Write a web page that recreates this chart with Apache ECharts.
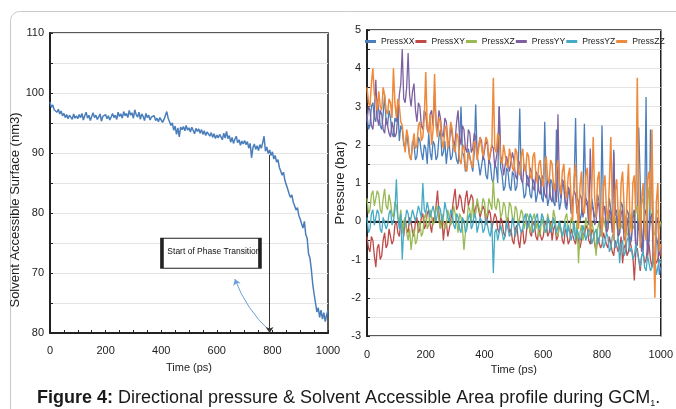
<!DOCTYPE html>
<html><head><meta charset="utf-8">
<script src="https://cdn.jsdelivr.net/npm/echarts@6/dist/echarts.min.js"></script>
<style>html,body{margin:0;padding:0;background:#fff;}#c{width:676px;height:409px;}</style>
</head><body><div id="c"></div>
<script>
// ---------- Left panel: Solvent Accessible Surface (sampled every 5 ps) ----------
const sasStep = 5;
const sasValues = [
98.5,97.6,98.0,97.2,97.5,96.8,97.3,96.5,97.0,96.2,96.6,95.9,96.4,95.7,96.3,96.0,95.6,96.5,95.8,96.2,95.7,
96.4,95.9,96.6,95.5,96.2,96.8,95.8,96.3,95.4,96.1,96.7,95.9,96.3,95.6,96.0,96.5,95.3,96.1,95.8,96.4,
95.7,96.2,95.5,96.0,96.6,95.9,96.3,95.6,96.8,96.1,96.5,95.8,96.9,96.2,96.6,95.9,97.1,96.3,96.7,95.8,
97.2,96.4,96.0,96.8,95.6,96.5,96.1,95.4,96.6,95.9,96.3,95.5,96.0,95.7,96.2,95.4,95.8,95.2,95.9,95.5,
95.1,95.6,95.3,96.9,95.8,95.2,94.6,95.0,93.8,94.5,93.1,94.2,92.7,94.3,93.9,94.4,93.7,94.6,93.8,94.2,
93.5,94.3,93.8,93.2,94.1,93.6,94.0,93.3,93.9,93.1,93.7,92.9,93.5,93.8,92.8,93.4,92.6,93.2,92.4,93.0,
92.5,93.1,92.7,92.2,93.3,92.5,93.6,92.4,92.9,91.8,92.6,91.6,92.3,92.8,91.7,92.2,91.3,92.0,91.5,92.1,
91.4,91.9,90.8,91.6,89.2,90.9,91.5,90.6,91.2,90.4,91.4,90.8,91.7,92.8,90.3,91.0,89.9,90.5,89.6,90.2,
89.0,89.6,88.5,88.9,87.6,87.0,86.3,86.8,85.4,84.7,84.0,83.2,82.6,83.0,81.8,81.2,80.5,80.9,79.6,79.0,
78.2,77.5,78.6,76.4,75.8,73.2,72.5,70.6,68.2,66.5,65.0,63.5,64.2,62.6,63.8,62.3,63.4,61.9,63.0,63.8
];
// tick labels of the left value axis (60..110 step 10) exactly as printed in the figure
const sasTickValues = [60, 70, 80, 90, 100, 110];
const sasTickLabels = ['80', '70', '80', '90', '100', '110'];
const timeTickLabels = ['0', '200', '400', '600', '800', '1000'];
const annotationText = 'Start of Phase Transition';
const transitionTime = 790;

// ---------- Right panel: directional pressure (sampled every 5 ps) ----------
const pressStep = 5;
const pressNames = ['PressXX', 'PressXY', 'PressXZ', 'PressYY', 'PressYZ', 'PressZZ'];
const pressXX = [
2.8,2.4,2.5,3.0,3.1,2.7,2.6,3.2,2.9,2.5,2.4,2.8,3.3,2.6,2.5,2.9,2.7,2.3,2.2,2.7,
2.6,3.0,2.1,2.5,2.4,2.0,1.9,2.3,2.0,1.7,1.6,2.1,2.0,1.6,1.7,2.2,2.1,1.8,1.6,2.0,
1.9,1.5,2.3,1.8,1.6,2.1,2.0,1.6,1.7,2.2,2.4,1.7,1.8,2.1,1.5,1.9,2.0,1.6,1.7,2.1,
1.9,1.6,1.5,2.0,3.0,1.8,1.7,1.3,1.4,1.9,1.9,1.5,1.3,1.8,3.05,1.7,1.5,1.2,1.2,1.7,
1.6,1.2,1.1,1.6,1.5,1.1,1.0,1.5,1.4,1.0,3.0,1.4,1.2,0.8,0.9,1.4,1.3,0.9,0.8,1.3,
1.2,0.8,0.9,1.4,2.95,1.1,1.0,0.6,0.7,1.2,1.1,0.7,0.6,1.1,1.0,0.5,0.7,1.2,1.1,0.6,
0.5,2.6,0.9,0.4,0.6,1.1,1.0,0.5,0.4,2.4,0.8,0.3,0.5,1.0,0.9,0.4,0.3,0.8,0.7,0.2,
0.4,0.9,2.7,0.6,0.5,0.0,0.2,0.7,2.55,0.5,0.4,-0.1,0.1,0.6,0.6,0.1,0.2,0.7,0.5,0.0,
2.5,0.3,0.4,-0.2,0.1,0.6,0.6,0.0,1.87,0.2,0.3,-0.4,-0.3,0.5,0.4,-0.3,-0.2,0.3,0.2,-0.5,
-0.4,0.2,0.3,-0.7,-0.6,2.45,2.4,-0.4,-0.8,0.3,3.25,-0.9,-0.5,2.4,2.4,-1.0,-1.3,-0.4,-0.6,-1.4,
-1.2
];
const pressXY = [
-0.4,-0.7,-0.8,-0.4,-0.5,-0.9,-1.2,-0.7,-0.6,-1.0,-0.9,-0.5,-0.3,-0.7,-0.6,-0.2,-0.2,-0.6,-0.5,-0.1,
0.0,-0.3,-0.4,0.0,-0.1,-0.4,0.1,-0.2,-0.3,0.1,0.0,-0.3,-0.4,0.0,0.1,-0.3,-0.2,0.1,0.2,-0.2,
-0.1,0.2,0.3,-0.1,-0.3,0.1,0.0,0.4,0.8,0.2,-0.2,0.1,-0.5,-0.1,0.0,-0.4,-0.4,0.0,0.3,0.6,
0.85,0.3,0.4,0.7,0.6,0.3,0.2,0.6,0.8,0.4,0.4,0.7,0.6,0.2,0.2,0.5,0.5,0.1,0.1,0.4,
0.3,-0.1,-0.1,0.3,0.2,-0.2,-0.2,0.2,0.1,-0.2,-0.3,0.1,0.0,-0.3,-0.4,0.0,0.1,-0.3,-0.2,-0.5,
-0.6,-0.2,-0.1,-0.5,-0.7,-0.3,-0.2,-0.6,-0.5,-0.1,0.0,-0.3,-0.4,0.0,-0.1,-0.4,-0.5,-0.2,-0.2,-0.5,
-0.4,-0.1,0.0,-0.4,-0.3,0.0,-0.5,-0.2,-0.1,-0.5,-0.4,-0.1,-0.2,-0.5,-0.6,-0.2,-0.3,-0.6,-0.5,-0.2,
-0.2,-0.5,-0.6,-0.3,-0.3,-0.7,-0.7,-0.3,-0.4,-0.1,-0.2,-0.5,-0.6,-0.2,-0.3,-0.6,-0.8,-0.4,-0.4,-0.7,
-0.6,-0.3,-0.3,-0.6,-0.7,-0.4,-0.4,-0.8,-0.9,-0.5,-0.5,-0.8,-0.7,-0.4,-1.1,-0.7,-0.6,-0.9,-0.8,-0.5,
-0.5,-0.9,-1.55,-0.8,-0.7,-1.0,-1.3,-0.9,-0.8,-1.1,-1.0,-0.7,-0.6,-1.0,-1.2,-0.8,-0.8,-1.1,-1.0,-0.7,
-0.9
];
const pressXZ = [
0.6,0.2,0.3,0.7,0.8,0.4,0.4,0.8,0.7,0.3,0.2,0.6,0.85,0.4,0.3,0.7,0.5,0.2,0.1,0.5,
0.4,0.1,0.0,0.3,-0.3,0.0,0.1,-0.3,-0.5,-0.2,-0.75,-0.4,-0.2,-0.6,-0.5,-0.1,0.0,-0.4,-0.3,0.1,
0.2,-0.2,-0.1,0.3,0.3,-0.1,0.0,0.3,0.4,0.0,-0.2,0.2,0.2,-0.2,-0.1,0.3,0.3,-0.1,0.0,0.4,
0.4,0.0,-0.3,0.2,0.1,-0.2,-0.75,-0.3,0.0,0.4,0.3,0.0,0.5,0.1,0.2,0.6,0.6,0.2,0.3,0.6,
0.5,0.1,0.2,0.6,0.6,0.3,1.08,0.4,0.3,0.6,0.5,0.1,0.2,0.5,0.4,0.0,0.1,0.5,0.4,0.1,
0.0,0.4,0.3,-0.1,-0.1,0.3,0.2,-0.2,-0.2,0.2,0.1,-0.3,-0.3,0.1,0.2,-0.2,0.0,-0.4,-0.3,0.1,
0.1,-0.3,-0.2,0.2,0.2,-0.2,-0.1,0.3,0.1,-0.3,-0.4,0.0,0.0,-0.4,-0.2,0.1,0.2,-0.2,-0.3,0.1,
0.0,-0.3,-0.4,0.0,-1.1,-0.3,-0.1,-0.5,-0.3,0.1,0.1,-0.3,-0.4,0.0,-0.2,-0.5,-0.9,-0.2,0.0,-0.4,
-0.3,0.1,0.1,-0.3,-0.2,0.2,0.2,-0.2,-0.3,0.1,0.0,-0.4,0.3,-0.1,-0.2,0.2,0.1,-0.3,-0.4,0.0,
0.2,-0.2,-0.1,0.3,0.4,-0.1,0.0,0.5,0.6,0.0,-0.2,0.4,0.9,0.2,0.1,-0.4,-0.3,0.2,0.3,-0.2,
0.0
];
const pressYY = [
2.6,3.0,2.9,2.5,2.4,2.8,3.7,2.7,2.5,2.9,2.8,2.4,2.3,2.7,2.7,2.3,2.2,2.6,2.6,2.2,
2.3,2.8,3.3,3.6,4.5,3.2,3.1,3.5,4.4,3.3,3.0,3.4,3.6,2.9,2.6,3.1,3.0,2.5,2.4,2.9,
2.8,2.4,2.3,2.8,2.9,2.5,3.35,2.6,2.4,2.9,2.7,2.3,2.2,2.7,2.6,2.1,2.0,2.5,2.5,2.0,
2.1,2.6,2.9,2.2,2.0,2.5,2.4,1.9,1.8,2.4,2.3,1.8,1.9,2.3,2.2,1.7,1.7,2.2,2.1,1.6,
1.6,2.1,2.0,1.5,1.5,2.0,1.9,1.4,1.4,1.9,3.0,1.7,1.6,1.2,1.2,1.7,1.7,1.3,1.3,1.8,
1.6,1.2,1.1,1.6,1.5,1.1,1.0,1.5,1.4,1.0,0.9,1.4,1.3,0.9,0.8,1.3,1.2,0.8,0.7,1.2,
1.1,0.7,0.6,1.1,1.0,0.6,0.5,1.0,0.9,0.5,2.8,0.9,0.6,1.1,1.0,0.5,0.4,0.9,0.8,0.3,
0.3,0.8,0.7,0.2,0.2,0.7,0.6,0.1,0.1,0.6,0.5,0.0,1.9,0.4,0.3,-0.1,0.0,0.5,0.4,-0.2,
-0.1,0.4,0.3,-0.3,-0.2,0.3,0.2,-0.3,1.8,0.2,0.1,-0.4,-0.3,0.2,0.3,-0.5,-0.4,0.1,0.1,-0.6,
-0.5,0.1,0.2,-0.7,-0.6,0.0,0.0,-0.8,-0.8,0.2,0.3,-0.9,-0.9,0.1,0.2,-1.1,-1.0,0.0,0.1,-0.9,
-0.7
];
const pressYZ = [
0.1,-0.3,-0.2,0.2,0.3,-0.1,-0.1,0.3,0.2,-0.2,-0.3,0.1,0.1,-0.2,-0.1,0.2,0.3,-0.1,0.0,0.3,
1.1,0.1,-0.2,0.2,-1.0,-0.2,0.0,0.3,0.2,-0.1,-0.1,0.3,0.3,0.0,0.0,0.4,0.4,0.1,1.0,0.3,
0.2,0.5,0.5,0.1,0.1,0.4,0.4,0.0,0.0,0.4,0.3,0.0,0.1,0.5,0.5,0.1,0.0,0.3,0.2,-0.1,
-0.2,0.2,0.1,-0.2,-0.3,0.1,0.0,-0.3,-0.2,0.1,0.2,-0.2,-0.1,0.2,0.1,-0.3,-0.3,0.1,0.0,-0.3,
-0.2,0.1,0.1,-0.3,-0.4,0.0,-1.35,-0.3,-0.2,-0.5,-0.5,-0.1,-0.1,-0.5,-0.4,0.0,0.0,-0.4,-0.3,0.1,
-0.1,-0.4,-0.4,0.0,0.0,-0.3,-0.2,0.1,0.2,-0.2,-0.1,0.2,0.1,-0.3,-0.2,0.1,0.2,-0.2,-0.1,0.2,
0.1,-0.2,-0.3,0.1,0.0,-0.3,-0.2,0.1,0.1,-0.3,-0.3,0.0,0.0,-0.4,-0.2,0.0,-0.4,-0.1,-0.1,-0.5,
-0.3,0.0,-0.5,-0.2,-0.2,-0.5,-0.4,-0.1,-0.1,-0.5,-0.5,-0.2,-0.3,-0.6,-0.6,-0.3,-0.2,-0.6,-0.5,-0.2,
-0.3,-0.7,-0.6,-0.3,-0.4,-0.8,-0.7,-0.4,-0.3,-0.7,-0.6,-0.4,-1.1,-0.6,-0.5,-0.9,-0.8,-0.5,-0.4,-0.8,
-0.7,-1.0,-0.9,-0.6,-0.6,-1.0,-1.2,-0.9,-0.8,-1.2,-1.3,-0.9,-0.9,-1.3,-1.2,-0.9,-1.0,-1.4,-1.35,-1.0,
-1.1
];
const pressZZ = [
3.5,3.1,3.0,3.6,4.0,3.3,3.2,2.9,3.4,3.0,2.9,3.5,3.3,2.9,2.8,3.2,3.1,2.7,4.0,3.1,
2.7,3.2,3.0,2.6,2.5,2.1,1.8,2.4,2.2,1.7,1.6,2.0,2.3,1.9,2.0,2.5,2.6,2.1,2.2,2.7,
3.9,2.5,2.3,2.8,2.0,2.4,3.85,2.5,2.2,2.7,2.6,2.1,1.9,2.4,2.5,1.9,2.1,2.6,2.4,1.9,
1.8,2.3,2.2,1.6,1.5,1.9,2.0,1.4,1.3,1.8,1.8,1.5,1.4,2.1,2.0,1.6,1.6,2.2,2.2,1.7,
1.7,2.2,2.1,1.6,1.6,2.0,3.75,1.9,1.8,2.3,2.2,1.6,1.5,2.0,2.0,1.5,1.4,1.9,1.9,1.4,
1.3,1.9,1.8,1.3,1.2,1.7,1.9,1.4,1.3,1.8,1.7,1.2,1.1,1.7,1.8,1.2,1.0,1.5,1.6,1.1,
0.9,1.5,1.7,1.1,1.0,1.6,1.5,0.9,0.8,1.4,1.6,1.0,0.7,1.3,1.5,0.8,0.6,1.2,1.4,0.5,
0.0,1.1,1.5,0.4,-0.2,0.9,1.3,0.3,0.2,1.2,1.4,0.5,-0.3,0.8,2.2,0.6,0.1,1.1,1.3,0.2,
-0.4,0.9,1.2,0.3,0.0,1.0,2.2,0.4,-0.5,0.8,1.1,0.2,-0.2,1.0,1.3,0.4,-0.6,0.7,1.5,0.1,
-0.3,1.0,1.2,0.2,3.75,0.8,-0.7,0.6,1.0,-0.2,-0.5,1.1,1.3,0.3,2.4,-0.3,-2.0,0.5,1.0,-0.8,
-0.6
];
const pressColors = ['#4a7ebb', '#be4b48', '#98b954', '#7d60a0', '#46aac5', '#ee8a3c'];
const pressTickLabels = ['-3', '-2', '-1', '0', '1', '2', '3', '4', '5'];
// dashed zero reference line of the pressure panel
const zeroLineTimes = [0, 1000];
const zeroLineValue = 0;

const captionBold = 'Figure 4:';
const captionText = ' Directional pressure & Solvent Accessible Area profile during GCM';
const captionSub = '1';

// ---------- build ----------
const toPairs = (arr, step) => arr.map((v, i) => [i * step, v]);
const pressData = [pressXX, pressXY, pressXZ, pressYY, pressYZ, pressZZ];
const font = 'Arial, "Liberation Sans", sans-serif';
const txt = '#222';

const chart = echarts.init(document.getElementById('c'), null, {renderer: 'canvas'});

const pressSeries = pressNames.map((name, k) => ({
  name, type: 'line', xAxisIndex: 1, yAxisIndex: 1,
  data: toPairs(pressData[k], pressStep),
  showSymbol: false, symbol: 'none',
  lineStyle: {width: k === 5 ? 1.5 : 1.3, color: pressColors[k]},
  itemStyle: {color: pressColors[k]},
  z: 3 + k
}));

const option = {
  animation: false,
  textStyle: {fontFamily: font},
  title: {
    text: '{b|' + captionBold + '}{r|' + captionText + '}{s|' + captionSub + '}{r|.}',
    left: 32, top: 384,
    textStyle: {
      fontWeight: 'normal',
      rich: {
        b: {fontFamily: font, fontSize: 18, fontWeight: 'bold', color: '#1a1a1a'},
        r: {fontFamily: font, fontSize: 18, fontWeight: 'normal', color: '#1a1a1a'},
        s: {fontFamily: font, fontSize: 9, fontWeight: 'normal', color: '#1a1a1a', padding: [10, 0, 0, 0]}
      }
    }
  },
  graphic: [{
    type: 'rect', silent: true, z: -1,
    shape: {x: 10.5, y: 11.5, width: 720, height: 440, r: 9},
    style: {fill: 'none', stroke: '#c9c9c9', lineWidth: 1}
  }],
  legend: {
    data: pressNames,
    left: 365, top: 37, width: 340, padding: 0,
    icon: 'rect', itemWidth: 11, itemHeight: 3, itemGap: 1,
    textStyle: {fontSize: 8.6, color: txt, fontFamily: font},
    selectedMode: false
  },
  grid: [
    {left: 50, top: 33, width: 278, height: 300, show: true, borderColor: '#222', borderWidth: 1.5, backgroundColor: 'transparent'},
    {left: 367, top: 30, width: 298, height: 306, show: true, borderColor: '#222', borderWidth: 1.5, backgroundColor: 'transparent'}
  ],
  xAxis: [
    {
      type: 'value', gridIndex: 0, min: 0, max: 1000, interval: 50,
      name: 'Time (ps)', nameLocation: 'middle', nameGap: 29,
      nameTextStyle: {fontSize: 11, color: txt},
      axisLine: {show: true, lineStyle: {color: '#222', width: 2}},
      axisTick: {show: true, inside: true, length: 3, lineStyle: {color: '#222'}},
      axisLabel: {fontSize: 11, color: txt, margin: 12,
        formatter: v => (v % 200 === 0 ? timeTickLabels[v / 200] : '')},
      splitLine: {show: false}
    },
    {
      type: 'value', gridIndex: 1, min: 0, max: 1000, interval: 200,
      name: 'Time (ps)', nameLocation: 'middle', nameGap: 26,
      nameTextStyle: {fontSize: 11, color: txt},
      axisLine: {show: true, lineStyle: {color: '#222', width: 2}},
      axisTick: {show: false},
      axisLabel: {fontSize: 11, color: txt, margin: 13, formatter: v => timeTickLabels[v / 200]},
      splitLine: {show: false}
    }
  ],
  yAxis: [
    {
      type: 'value', gridIndex: 0, min: 60, max: 110, interval: 5,
      name: 'Solvent Accessible Surface (nm3)', nameLocation: 'middle', nameGap: 18,
      nameTextStyle: {fontSize: 13, color: txt, padding: [0, 54, 0, 0]},
      axisLine: {show: true, lineStyle: {color: '#222', width: 2}},
      axisTick: {show: true, inside: true, length: 3, lineStyle: {color: '#222'}},
      axisLabel: {fontSize: 11, color: txt, margin: 6,
        formatter: v => { const i = sasTickValues.indexOf(v); return i >= 0 ? sasTickLabels[i] : ''; }},
      splitLine: {show: true, lineStyle: {color: '#e4e4e4', width: 1}}
    },
    {
      type: 'value', gridIndex: 1, min: -3, max: 5, interval: 0.5,
      name: 'Pressure (bar)', nameLocation: 'middle', nameGap: 15,
      nameTextStyle: {fontSize: 13, color: txt},
      axisLine: {show: true, lineStyle: {color: '#222', width: 2}},
      axisTick: {show: true, inside: true, length: 3, lineStyle: {color: '#222'}},
      axisLabel: {fontSize: 11, color: txt, margin: 6,
        formatter: v => (Number.isInteger(v) ? pressTickLabels[v + 3] : '')},
      splitLine: {show: true, lineStyle: {color: '#e4e4e4', width: 1}}
    }
  ],
  series: [
    {
      name: 'SAS', type: 'line', xAxisIndex: 0, yAxisIndex: 0,
      data: toPairs(sasValues, sasStep),
      showSymbol: false, symbol: 'none',
      lineStyle: {width: 1.5, color: '#4a7ebb'},
      z: 3,
      markLine: {
        silent: true, animation: false,
        lineStyle: {color: '#333', width: 1, type: 'solid'},
        label: {show: false}, symbolSize: 6,
        data: [[{coord: [transitionTime, 89.7], symbol: 'none'}, {coord: [transitionTime, 60], symbol: 'arrow'}]]
      },
      markPoint: {
        silent: true, animation: false,
        data: [{
          coord: [579, 73.3], symbol: 'rect', symbolSize: [98, 30],
          itemStyle: {color: '#fff', borderColor: '#222', borderWidth: 2},
          label: {show: true, position: 'inside', formatter: annotationText, color: '#111', fontSize: 8.5, offset: [3, -2]}
        }]
      }
    },
    {
      name: 'arrow', type: 'lines', coordinateSystem: 'cartesian2d', xAxisIndex: 0, yAxisIndex: 0,
      silent: true, symbol: ['none', 'arrow'], symbolSize: 6, z: 4,
      lineStyle: {color: '#6d9fd6', width: 1, curveness: 0.12, opacity: 1},
      data: [{coords: [[transitionTime + 1, 60.3], [665, 69]]}]
    },
    {
      name: 'zero', type: 'line', xAxisIndex: 1, yAxisIndex: 1, z: 1, silent: true,
      data: zeroLineTimes.map(t => [t, zeroLineValue]),
      showSymbol: false, symbol: 'none',
      lineStyle: {color: '#222', width: 1, type: [4, 4]}
    },
    ...pressSeries
  ]
};
chart.setOption(option);
</script></body></html>
